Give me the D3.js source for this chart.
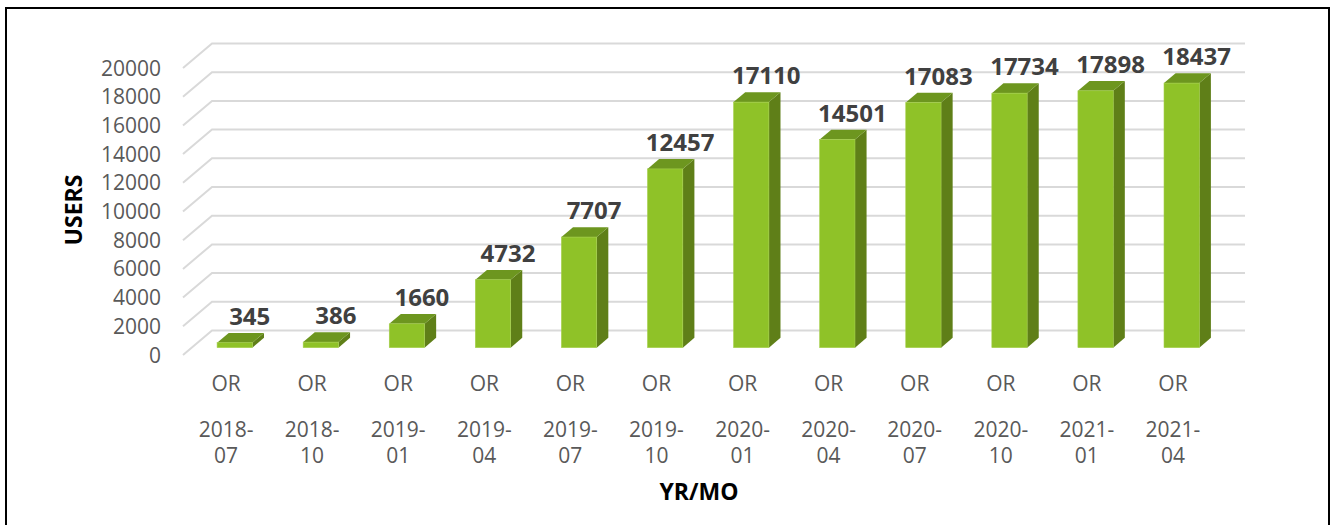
<!DOCTYPE html>
<html>
<head>
<meta charset="utf-8">
<script src="https://cdn.jsdelivr.net/npm/d3@7"></script>
<style>
  body { margin: 0; background: #fff; }
  text { font-family: "Open Sans", sans-serif; }
  .tick-label { font-size: 21px; fill: #595959; }
  .cat-label { font-size: 21px; fill: #595959; }
  .value-label { font-size: 24px; font-weight: bold; fill: #404040; }
  .axis-title { font-size: 23px; font-weight: bold; fill: #000; }
</style>
</head>
<body>
<script>
// chart data
const regions = ["OR", "OR", "OR", "OR", "OR", "OR", "OR", "OR", "OR", "OR", "OR", "OR"];
const periods = ["2018-07", "2018-10", "2019-01", "2019-04", "2019-07", "2019-10",
  "2020-01", "2020-04", "2020-07", "2020-10", "2021-01", "2021-04"];
const users = [345, 386, 1660, 4732, 7707, 12457, 17110, 14501, 17083, 17734, 17898, 18437];
const yTicks = [0, 2000, 4000, 6000, 8000, 10000, 12000, 14000, 16000, 18000, 20000];

const width = 1331, height = 525;
// oblique depth of the 3d box
const depth = {dx: 29, dy: -24.5};
const barDepth = [0.3, 0.7];

const svg = d3.select("body")
  .append("svg")
  .attr("width", width)
  .attr("height", height);

svg.append("rect")
  .attr("x", 6)
  .attr("y", 8)
  .attr("width", 1323)
  .attr("height", 530)
  .attr("fill", "none")
  .attr("stroke", "#000")
  .attr("stroke-width", 2);

// front plane scales
const xScale = d3.scaleBand()
  .domain(d3.range(periods.length))
  .range([183, 1216]);

const yScale = d3.scaleLinear()
  .domain([0, 20000])
  .range([355, 68]);

// gridlines: diagonal on the side wall, then along the back wall
const grid = svg.append("g");
yTicks.forEach((t) => {
  const y = yScale(t);
  grid.append("path")
    .attr("d", "M" + xScale.range()[0] + "," + y +
      "L" + (xScale.range()[0] + depth.dx) + "," + (y + depth.dy) +
      "L" + (xScale.range()[1] + depth.dx) + "," + (y + depth.dy))
    .attr("fill", "none")
    .attr("stroke", "#d9d9d9")
    .attr("stroke-width", 2);
});

svg.append("g")
  .selectAll("text")
  .data(yTicks)
  .join("text")
  .attr("class", "tick-label")
  .attr("x", 161)
  .attr("y", (d) => yScale(d))
  .attr("dy", "0.36em")
  .attr("text-anchor", "end")
  .text((d) => d);

// bars
const barW = xScale.bandwidth() * 0.41;
const bars = svg.append("g");
users.forEach((v, i) => {
  const ox0 = barDepth[0] * depth.dx, oy0 = barDepth[0] * depth.dy;
  const ddx = (barDepth[1] - barDepth[0]) * depth.dx, ddy = (barDepth[1] - barDepth[0]) * depth.dy;
  const cx = xScale(i) + xScale.bandwidth() / 2 + ox0;
  const x0 = cx - barW / 2, x1 = cx + barW / 2;
  const yb = yScale(0) + oy0, yt = yScale(v) + oy0;

  bars.append("path")
    .attr("d", `M${x1},${yb}L${x1 + ddx},${yb + ddy}L${x1 + ddx},${yt + ddy}L${x1},${yt}Z`)
    .attr("fill", "#5f7f18");
  bars.append("path")
    .attr("d", `M${x0},${yt}L${x1},${yt}L${x1 + ddx},${yt + ddy}L${x0 + ddx},${yt + ddy}Z`)
    .attr("fill", "#6d961f");
  bars.append("rect")
    .attr("x", x0)
    .attr("y", yt)
    .attr("width", barW)
    .attr("height", yb - yt)
    .attr("fill", "#8fc228")
    .attr("stroke", "#a4cf4a")
    .attr("stroke-width", 0.6);

  bars.append("text")
    .attr("class", "value-label")
    .attr("x", cx + 15)
    .attr("y", yt - 18)
    .attr("text-anchor", "middle")
    .text(v);
});

// category labels
const cats = svg.append("g")
  .selectAll("text")
  .data(periods)
  .join("text")
  .attr("class", "cat-label")
  .attr("text-anchor", "middle");

cats.append("tspan")
  .attr("x", (d, i) => xScale(i) + xScale.bandwidth() / 2)
  .attr("y", 391)
  .text((d, i) => regions[i]);
cats.append("tspan")
  .attr("x", (d, i) => xScale(i) + xScale.bandwidth() / 2)
  .attr("y", 437)
  .text((d) => d.split("-")[0] + "-");
cats.append("tspan")
  .attr("x", (d, i) => xScale(i) + xScale.bandwidth() / 2)
  .attr("y", 463)
  .text((d) => d.split("-")[1]);

svg.append("text")
  .attr("class", "axis-title")
  .attr("x", 699)
  .attr("y", 500)
  .attr("text-anchor", "middle")
  .text("YR/MO");

svg.append("text")
  .attr("class", "axis-title")
  .attr("transform", "translate(82,210) rotate(-90)")
  .attr("text-anchor", "middle")
  .text("USERS");
</script>
</body>
</html>
